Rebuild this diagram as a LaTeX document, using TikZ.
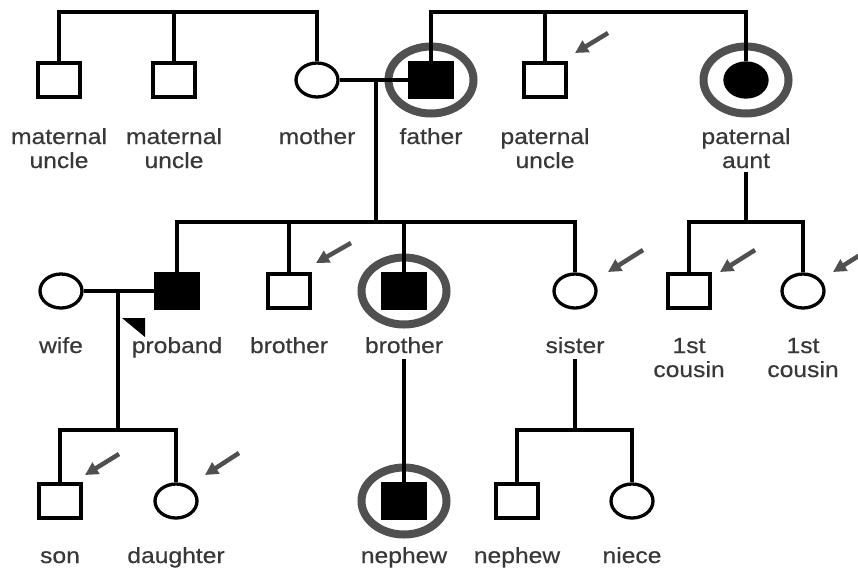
\documentclass[tikz,border=0pt]{standalone}
\usepackage{fontspec}
\setmainfont{Liberation Sans}[FakeStretch=1.12,FakeBold=0.4]
\usetikzlibrary{shapes.geometric,arrows.meta,calc}
\definecolor{ringc}{HTML}{505050}
\definecolor{ptrc}{HTML}{505050}
\definecolor{txt}{HTML}{383838}
\begin{document}
\begin{tikzpicture}[x=1pt,y=-1pt,
  line width=3.3pt,
  sq/.style={draw,rectangle,minimum width=42pt,minimum height=34pt,inner sep=0pt,fill=white},
  ci/.style={draw,ellipse,minimum width=42pt,minimum height=34pt,inner sep=0pt,fill=white},
  aff/.style={fill=black},
  ring/.style={draw=ringc,ellipse,line width=8pt,minimum width=85pt,minimum height=67pt,inner sep=0pt},
  lbl/.style={anchor=base,text=txt,font=\fontsize{22}{24}\selectfont,inner sep=0pt},
  ptr/.style={draw=ptrc,line width=4.5pt,-{Triangle[length=13pt,width=13pt]}},
]
\fill[white] (0,0) rectangle (858,571);
\useasboundingbox (0,0) rectangle (858,571);

% rings
\node[ring] (rF) at (431,80) {};
\node[ring] (rA) at (746,80) {};
\node[ring] (rB) at (404,291) {};
\node[ring] (rN) at (404,501) {};

% generation I
\node[sq] (mU1) at (59,80) {};
\node[sq] (mU2) at (174,80) {};
\node[ci] (mother) at (317,80) {};
\node[sq,aff] (father) at (431,80) {};
\node[sq] (pU) at (545,80) {};
\node[ci,aff] (pA) at (746,80) {};

% generation II
\node[ci] (wife) at (61,291) {};
\node[sq,aff] (proband) at (177,291) {};
\node[sq] (br1) at (289,291) {};
\node[sq,aff] (br2) at (404,291) {};
\node[ci] (sister) at (575,291) {};
\node[sq] (c1) at (689,291) {};
\node[ci] (c2) at (803,291) {};

% generation III
\node[sq] (son) at (60,501) {};
\node[ci] (dau) at (176,501) {};
\node[sq,aff] (neph1) at (404,501) {};
\node[sq] (neph2) at (517,501) {};
\node[ci] (niece) at (632,501) {};

% coordinates
\coordinate (mt) at (317,12);
\coordinate (pt) at (746,12);
\coordinate (mf) at (376,80);
\coordinate (sib2) at (376,222);
\coordinate (aD) at (746,172);
\coordinate (cs) at (746,222);
\coordinate (wp) at (118,291);
\coordinate (wpk) at (118,430);
\coordinate (b2d) at (404,359);
\coordinate (sd) at (575,359);
\coordinate (sk) at (575,430);

% lines
\draw (mU1.north) |- (mt) -- (mother.north);
\draw (mU2.north) -- (mU2.north |- mt);
\draw (father.north) |- (pt) -- (pA.north);
\draw (pU.north) -- (pU.north |- pt);
\draw (mother) -- (father);
\draw (mf) -- (sib2);
\draw (proband.north) |- (sib2) -| (sister.north);
\draw (br1.north) -- (br1.north |- sib2);
\draw (br2.north) -- (br2.north |- sib2);
\draw (aD) -- (cs);
\draw (c1.north) |- (cs) -| (c2.north);
\draw (wife) -- (proband);
\draw (wp) -- (wpk);
\draw (son.north) |- (wpk) -| (dau.north);
\draw (b2d) -- (neph1.north);
\draw (sd) -- (sk);
\draw (neph2.north) |- (sk) -| (niece.north);

% proband marker
\fill ($(proband)+(-55,27)$) -- ($(proband)+(-32,27)$) -- ($(proband)+(-32,46)$) -- cycle;

% pointer arrows
\draw[ptr] ($(pU)+(63,-47)$) -- ($(pU)+(30,-27)$);
\draw[ptr] ($(br1)+(62,-48)$) -- ($(br1)+(27,-28)$);
\draw[ptr] ($(sister)+(68,-41)$) -- ($(sister)+(33,-19)$);
\draw[ptr] ($(c1)+(66,-41)$) -- ($(c1)+(31,-19)$);
\draw[ptr] ($(c2)+(65,-41)$) -- ($(c2)+(30,-19)$);
\draw[ptr] ($(son)+(59,-47)$) -- ($(son)+(25,-26)$);
\draw[ptr] ($(dau)+(63,-48)$) -- ($(dau)+(29,-26)$);

% labels
\node[lbl] (lmU1a) at (59,144) {maternal};
\node[lbl] (lmU1b) at (59,168) {uncle};
\node[lbl] (lmU2a) at (174,144) {maternal};
\node[lbl] (lmU2b) at (174,168) {uncle};
\node[lbl] (lmo) at (317,144) {mother};
\node[lbl] (lfa) at (431,144) {father};
\node[lbl] (lpUa) at (545,144) {paternal};
\node[lbl] (lpUb) at (545,168) {uncle};
\node[lbl] (lpAa) at (746,144) {paternal};
\node[lbl] (lpAb) at (746,168) {aunt};

\node[lbl] (lwi) at (61,353) {wife};
\node[lbl] (lpr) at (177,353) {proband};
\node[lbl] (lb1) at (289,353) {brother};
\node[lbl] (lb2) at (404,353) {brother};
\node[lbl] (lsi) at (575,353) {sister};
\node[lbl] (lc1a) at (689,353) {1st};
\node[lbl] (lc1b) at (689,377) {cousin};
\node[lbl] (lc2a) at (803,353) {1st};
\node[lbl] (lc2b) at (803,377) {cousin};

\node[lbl] (lso) at (60,563) {son};
\node[lbl] (lda) at (176,563) {daughter};
\node[lbl] (ln1) at (404,563) {nephew};
\node[lbl] (ln2) at (517,563) {nephew};
\node[lbl] (lni) at (632,563) {niece};
\end{tikzpicture}
\end{document}
